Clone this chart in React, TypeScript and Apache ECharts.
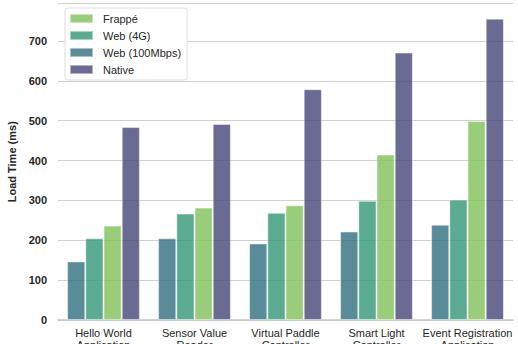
import React, { useEffect, useRef } from "react";
import * as echarts from "echarts";

const categories = [
  "Hello World\nApplication",
  "Sensor Value\nReader",
  "Virtual Paddle\nController",
  "Smart Light\nController",
  "Event Registration\nApplication",
];
const web100 = [147, 205, 192, 222, 239];
const web4g = [205, 267, 269, 299, 302];
const frappe = [237, 282, 288, 415, 499];
const native = [484, 492, 579, 671, 756];
const yTicks = [0, 100, 200, 300, 400, 500, 600, 700];

const seriesDefs = [
  { name: "Web (100Mbps)", data: web100, color: "#316e7e" },
  { name: "Web (4G)", data: web4g, color: "#319676" },
  { name: "Frappé", data: frappe, color: "#80c158" },
  { name: "Native", data: native, color: "#454577" },
];
const legendOrder = ["Frappé", "Web (4G)", "Web (100Mbps)", "Native"];

export default function App() {
  const ref = useRef<HTMLDivElement>(null);
  useEffect(() => {
    if (!ref.current) return;
    const chart = echarts.init(ref.current, undefined, { renderer: "svg" });
    const font = "Liberation Sans";
    chart.setOption({
      animation: false,
      backgroundColor: "#ffffff",
      grid: {
        left: 58,
        right: 5,
        top: 3.5,
        bottom: 24,
        containLabel: false,
        outerBoundsMode: "none",
      },
      legend: {
        data: legendOrder,
        orient: "vertical",
        left: 65,
        top: 8,
        itemWidth: 23,
        itemHeight: 9,
        itemGap: 6,
        icon: "rect",
        padding: [5, 6, 5, 4],
        backgroundColor: "#ffffff",
        borderColor: "#dddddd",
        borderWidth: 1,
        borderRadius: 3,
        textStyle: { fontFamily: font, fontSize: 11, color: "#262626", padding: [0, 0, 0, 5] },
      },
      xAxis: {
        type: "category",
        data: categories,
        axisLine: { show: true, lineStyle: { color: "#c4c4c4", width: 1.5 } },
        axisTick: { show: false },
        axisLabel: {
          fontFamily: font,
          fontSize: 11,
          color: "#262626",
          margin: 7,
          lineHeight: 12,
          interval: 0,
        },
        splitLine: { show: false },
      },
      yAxis: {
        type: "value",
        min: 0,
        max: 794,
        interval: 100,
        name: "Load Time (ms)",
        nameLocation: "middle",
        nameGap: 34,
        nameTextStyle: { fontFamily: font, fontSize: 11, fontWeight: "bold", color: "#262626" },
        axisLine: { show: false },
        axisTick: { show: false },
        axisLabel: {
          fontFamily: font,
          fontSize: 11,
          fontWeight: "bold",
          color: "#262626",
          margin: 11,
          formatter: (v: number) => (yTicks.includes(v) ? String(v) : ""),
        },
        splitLine: { show: true, lineStyle: { color: "#d0d0d0", width: 1 } },
      },
      series: seriesDefs.map((s) => ({
        name: s.name,
        type: "bar",
        data: s.data,
        barGap: "0%",
        barCategoryGap: "20%",
        itemStyle: {
          color: s.color,
          opacity: 0.8,
          borderColor: "rgba(255,255,255,0.6)",
          borderWidth: 1,
        },
      })),
    });
    return () => chart.dispose();
  }, []);
  return <div ref={ref} style={{ width: 518, height: 344, position: "absolute", left: 0, top: 0 }} />;
}
